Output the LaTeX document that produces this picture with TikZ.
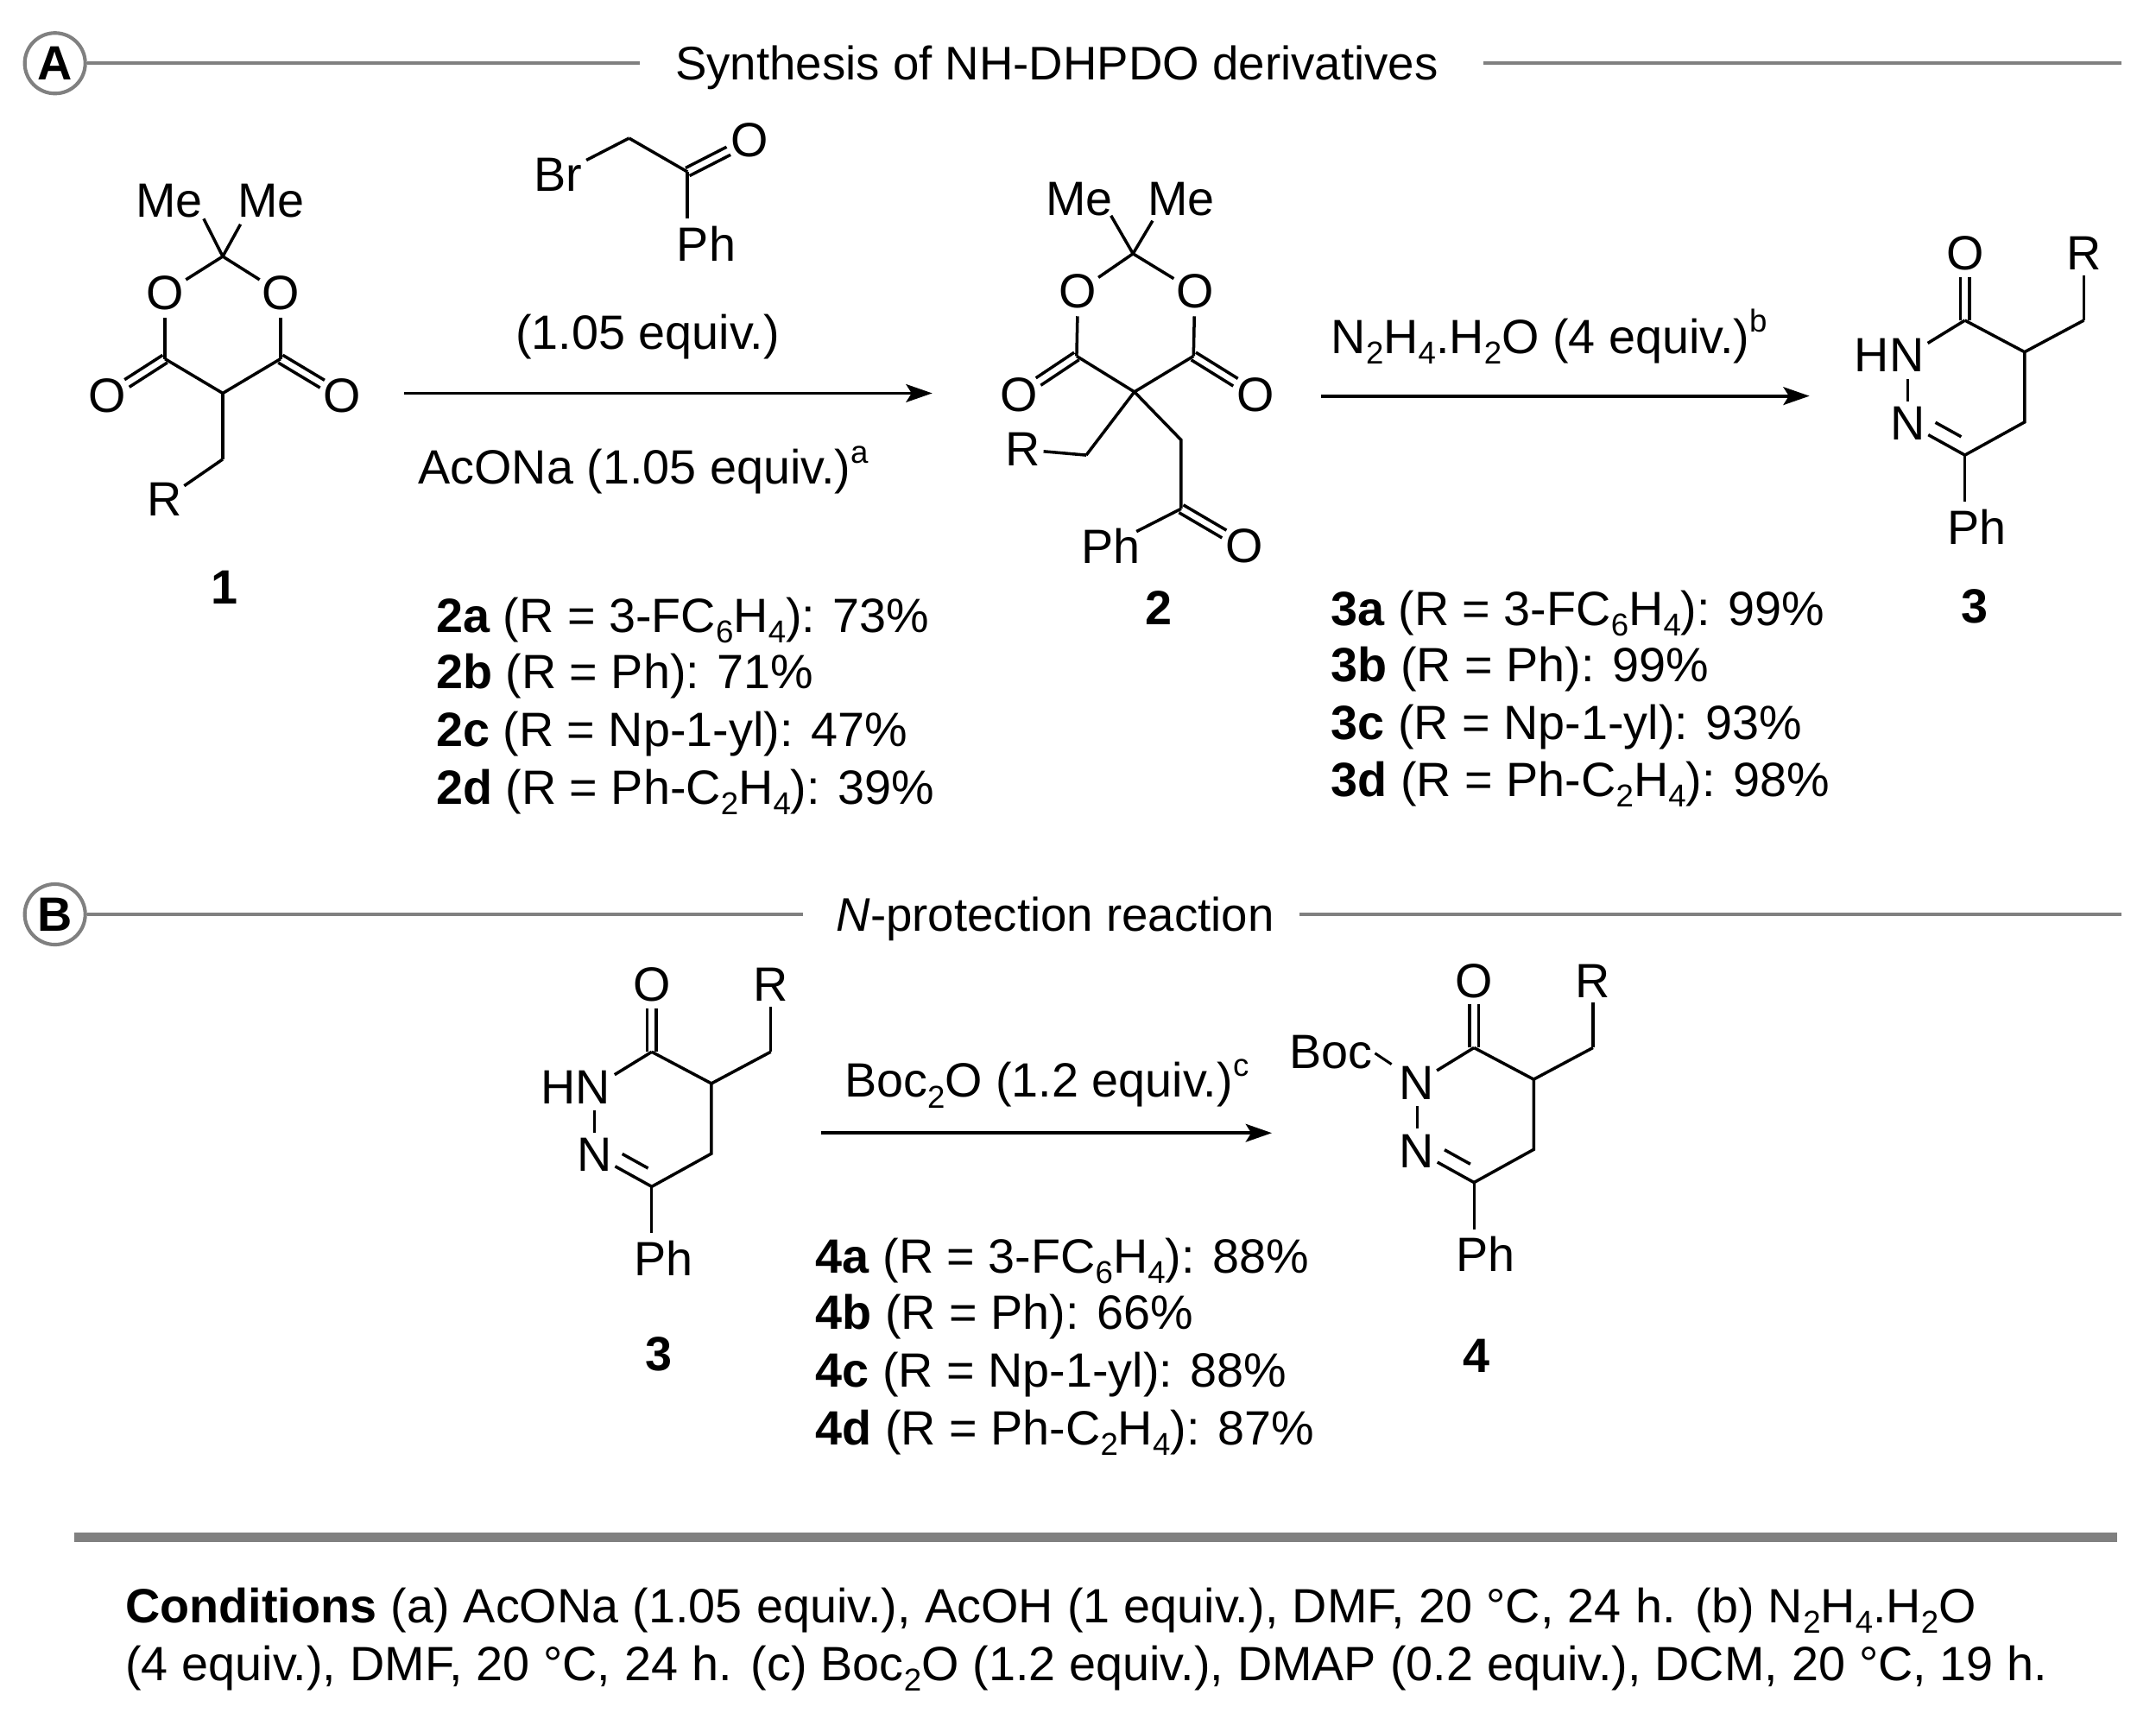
\documentclass[tikz,border=0pt]{standalone}
\usepackage{fontspec}
\setmainfont{Liberation Sans}
\usetikzlibrary{calc,arrows.meta}
\definecolor{secgray}{HTML}{808080}
\newcommand{\sbs}[1]{\raisebox{-0.22em}{\fontsize{23}{23}\selectfont #1}}
\newcommand{\sps}[1]{\raisebox{0.44em}{\fontsize{23}{23}\selectfont #1}}
\newcommand{\dbl}[3][]{%
  \draw[bondline,#1] ($(#2)!3.2pt!90:(#3)$) -- ($(#3)!3.2pt!-90:(#2)$);
  \draw[bondline,#1] ($(#2)!3.2pt!-90:(#3)$) -- ($(#3)!3.2pt!90:(#2)$);}
\tikzset{
  bondline/.style={line width=2.2pt,line cap=butt,black},
  atom/.style={inner sep=0pt,font=\fontsize{35}{35}\selectfont},
  txt/.style={inner sep=0pt,anchor=base west,font=\fontsize{35}{35}\selectfont},
  headtxt/.style={inner sep=0pt,anchor=base west,font=\fontsize{34.3}{35}\selectfont},
  cpd/.style={inner sep=0pt,font=\fontsize{35}{35}\selectfont\bfseries},
  rule/.style={line width=2.6pt,secgray},
  badge/.style={circle,draw=secgray,line width=2.6pt,minimum size=44pt,inner sep=0pt,font=\fontsize{35}{35}\selectfont\bfseries},
  rxn/.style={line width=2.4pt,black,-{Stealth[length=19pt,width=13pt,inset=4pt]}},
}
% hydrazinone ring, origin = carbonyl C; #1 x, #2 y, #3 nitrogen label, #4 prefix
\newcommand{\ringgroup}[4]{%
  \begin{scope}[shift={(#1,#2)}]
  \coordinate (#4c1) at (0,0);
  \coordinate (#4ca) at (43.4,23);
  \coordinate (#4cr) at (86.5,0);
  \coordinate (#4ch) at (43.4,74);
  \coordinate (#4cn) at (0,98);
  \coordinate (#4n2) at (-41.5,75);
  \coordinate (#4n1) at (-41.5,25.5);
  \coordinate (#4pa) at (0,150);
  \node[atom] (#4o) at (0,-48.7) {O};
  \node[atom] (#4r) at (86.5,-48.7) {R};
  \node[atom] (#4nb) at (#4n2) {N};
  \node[atom,anchor=west] (#4ph) at (-13,150) {Ph};
  #3
  \dbl[shorten >=17pt]{#4c1}{#4o}
  \draw[bondline,shorten >=17pt] (#4c1) -- (#4n1);
  \draw[bondline] (#4c1) -- (#4ca) -- (#4cr);
  \draw[bondline,shorten >=16pt] (#4cr) -- (#4r.center);
  \draw[bondline] (#4ca) -- (#4ch) -- (#4cn);
  \draw[bondline,shorten >=17pt] (#4cn) -- (#4n2);
  \draw[bondline,shorten >=17pt,shorten <=9pt] ($(#4cn)+(5.2,-9)$) -- ($(#4n2)+(5.2,-9)$);
  \draw[bondline,line width=1.8pt,shorten >=16pt,shorten <=17pt] (#4n1) -- (#4n2);
  \draw[bondline,line width=1.9pt,shorten >=18pt] (#4cn) -- (#4pa);
  \end{scope}}
\begin{document}
\begin{tikzpicture}[x=1pt,y=-1pt]
\useasboundingbox (0,0) rectangle (1568,1245.3);
\fill[white] (0,0) rectangle (1568,1245.3);

% --- section A
\node[badge] (badgeA) at (40,46) {A};
\node[headtxt] (headA) at (491,58) {Synthesis of NH-DHPDO derivatives};
\coordinate (headAr) at (1543,46);
\draw[rule] (badgeA) -- (465,46);
\draw[rule] (1079,46) -- (headAr);

% --- compound 1
\node[atom] (meA) at (123,146) {Me};
\node[atom] (meB) at (197,146) {Me};
\coordinate (meAa) at (140,143);
\coordinate (meBa) at (186,143);
\coordinate (a2) at (162,186.5);
\node[atom] (oA) at (120,213) {O};
\node[atom] (oB) at (204,213) {O};
\coordinate (a4) at (120,261);
\coordinate (a6) at (204,261);
\coordinate (a5) at (162,286);
\node[atom] (oC) at (78,288) {O};
\node[atom] (oD) at (249,288) {O};
\coordinate (a7) at (162,334);
\node[atom] (rA) at (120,363) {R};
\draw[bondline,shorten >=18pt] (a2) -- (meAa);
\draw[bondline,shorten >=23pt] (a2) -- (meBa);
\draw[bondline,shorten >=18pt] (a2) -- (oA.center);
\draw[bondline,shorten >=18pt] (a2) -- (oB.center);
\draw[bondline,shorten >=18pt] (a4) -- (oA.center);
\draw[bondline,shorten >=18pt] (a6) -- (oB.center);
\draw[bondline] (a4) -- (a5) -- (a6);
\dbl[shorten >=17pt]{a4}{oC}
\dbl[shorten >=17pt]{a6}{oD}
\draw[bondline] (a5) -- (a7);
\draw[bondline,shorten >=17pt] (a7) -- (rA.center);
\node[cpd] (lab1) at (163,427) {1};

% --- bromoketone
\node[atom] (br) at (406,127) {Br};
\coordinate (b1) at (457.5,100.5);
\coordinate (b2) at (500,125);
\node[atom] (oE) at (545,102) {O};
\node[atom,anchor=west] (phA) at (492,177) {Ph};
\coordinate (phAa) at (500,177);
\draw[bondline,shorten >=23pt] (b1) -- (br.center);
\draw[bondline] (b1) -- (b2);
\dbl[shorten >=17pt]{b2}{oE}
\draw[bondline,shorten >=18pt] (b2) -- (phAa);

% --- arrow 1 and its texts
\node[txt,anchor=center] (eq1) at (471,245) {(1.05 equiv.)};
\node[txt] (ac) at (304,352) {AcONa (1.05 equiv.)\sps{a}};
\coordinate (ar1s) at (294,286);
\coordinate (ar1e) at (678,286);
\draw[rxn] (ar1s) -- (ar1e);

% --- compound 2
\node[atom] (meC) at (785,145) {Me};
\node[atom] (meD) at (859,145) {Me};
\coordinate (meCa) at (800,143);
\coordinate (meDa) at (849,142.5);
\coordinate (c2) at (824,184.5);
\node[atom] (oF) at (784,212) {O};
\node[atom] (oG) at (869,212) {O};
\coordinate (c4) at (783,259);
\coordinate (c6) at (868,259);
\coordinate (c5) at (825,285);
\node[atom] (oH) at (741,287) {O};
\node[atom] (oI) at (913,287) {O};
\coordinate (c7) at (790,331);
\node[atom] (rB) at (744,327) {R};
\coordinate (c8) at (859,320);
\coordinate (c9) at (859,370);
\node[atom,anchor=west] (phB) at (786,397) {Ph};
\coordinate (phBa) at (806,397);
\node[atom] (oJ) at (905,397) {O};
\draw[bondline,shorten >=16pt] (c2) -- (meCa);
\draw[bondline,shorten >=21pt] (c2) -- (meDa);
\draw[bondline,shorten >=18pt] (c2) -- (oF.center);
\draw[bondline,shorten >=18pt] (c2) -- (oG.center);
\draw[bondline,shorten >=18pt] (c4) -- (oF.center);
\draw[bondline,shorten >=18pt] (c6) -- (oG.center);
\draw[bondline] (c4) -- (c5) -- (c6);
\dbl[shorten >=17pt]{c4}{oH}
\dbl[shorten >=17pt]{c6}{oI}
\draw[bondline] (c5) -- (c7);
\draw[bondline,shorten >=15pt] (c7) -- (rB.center);
\draw[bondline] (c5) -- (c8) -- (c9);
\dbl[shorten >=17pt]{c9}{oJ}
\draw[bondline,shorten >=23pt] (c9) -- (phBa);
\node[cpd] (lab2) at (843,442) {2};

% --- yields 2
\node[txt] (y2a) at (317,460) {\textbf{2a} (R = 3-FC\sbs{6}H\sbs{4}): 73\%};
\node[txt] (y2b) at (317,501) {\textbf{2b} (R = Ph): 71\%};
\node[txt] (y2c) at (317,543) {\textbf{2c} (R = Np-1-yl): 47\%};
\node[txt] (y2d) at (317,585) {\textbf{2d} (R = Ph-C\sbs{2}H\sbs{4}): 39\%};

% --- arrow 2
\node[txt] (n2h4) at (968,257) {N\sbs{2}H\sbs{4}.H\sbs{2}O (4 equiv.)\sps{b}};
\coordinate (ar2s) at (961,288);
\coordinate (ar2e) at (1316,288);
\draw[rxn] (ar2s) -- (ar2e);

% --- compound 3 (top)
\ringgroup{1429}{233}{\node[atom,anchor=east] (tnh) at (-29.5,25.5) {HN};}{t}
\node[cpd] (lab3) at (1436,441) {3};

% --- yields 3
\node[txt] (y3a) at (968,455) {\textbf{3a} (R = 3-FC\sbs{6}H\sbs{4}): 99\%};
\node[txt] (y3b) at (968,496) {\textbf{3b} (R = Ph): 99\%};
\node[txt] (y3c) at (968,538) {\textbf{3c} (R = Np-1-yl): 93\%};
\node[txt] (y3d) at (968,579) {\textbf{3d} (R = Ph-C\sbs{2}H\sbs{4}): 98\%};

% --- section B
\node[badge] (badgeB) at (40,665) {B};
\node[headtxt] (headB) at (608,677) {\textit{N}-protection reaction};
\coordinate (headBr) at (1543,665);
\draw[rule] (badgeB) -- (584,665);
\draw[rule] (945,665) -- (headBr);

% --- compound 3 (bottom)
\ringgroup{474}{765}{\node[atom,anchor=east] (mnh) at (-30,25.5) {HN};}{m}
\node[cpd] (lab3b) at (479,985) {3};

% --- arrow 3
\node[txt] (boc2) at (614,798) {Boc\sbs{2}O (1.2 equiv.)\sps{c}};
\coordinate (ar3s) at (597,824);
\coordinate (ar3e) at (925,824);
\draw[rxn] (ar3s) -- (ar3e);

% --- yields 4
\node[txt] (y4a) at (593,926) {\textbf{4a} (R = 3-FC\sbs{6}H\sbs{4}): 88\%};
\node[txt] (y4b) at (593,967) {\textbf{4b} (R = Ph): 66\%};
\node[txt] (y4c) at (593,1009) {\textbf{4c} (R = Np-1-yl): 88\%};
\node[txt] (y4d) at (593,1051) {\textbf{4d} (R = Ph-C\sbs{2}H\sbs{4}): 87\%};

% --- compound 4
\ringgroup{1072}{762}{\node[atom] (bn) at (-41.5,25.5) {N};}{b}
\node[atom] (boc) at (968,765) {Boc};
\coordinate (boca) at (1000,766);
\coordinate (bnc) at (1012,774);
\draw[bondline,line width=1.9pt] (boca) -- (bnc);
\node[cpd] (lab4) at (1074,986) {4};

% --- conditions
\coordinate (sepL) at (54,1118);
\coordinate (sepR) at (1540,1118);
\draw[line width=6.5pt,secgray] (sepL) -- (sepR);
\node[txt] (cond1) at (91,1180) {\makebox[1346pt][s]{\textbf{Conditions} (a) AcONa (1.05 equiv.), AcOH (1 equiv.), DMF, 20 °C, 24 h. (b) N\sbs{2}H\sbs{4}.H\sbs{2}O}};
\node[txt] (cond2) at (91,1222) {\makebox[1398pt][s]{(4 equiv.), DMF, 20 °C, 24 h. (c) Boc\sbs{2}O (1.2 equiv.), DMAP (0.2 equiv.), DCM, 20 °C, 19 h.}};
\end{tikzpicture}
\end{document}
